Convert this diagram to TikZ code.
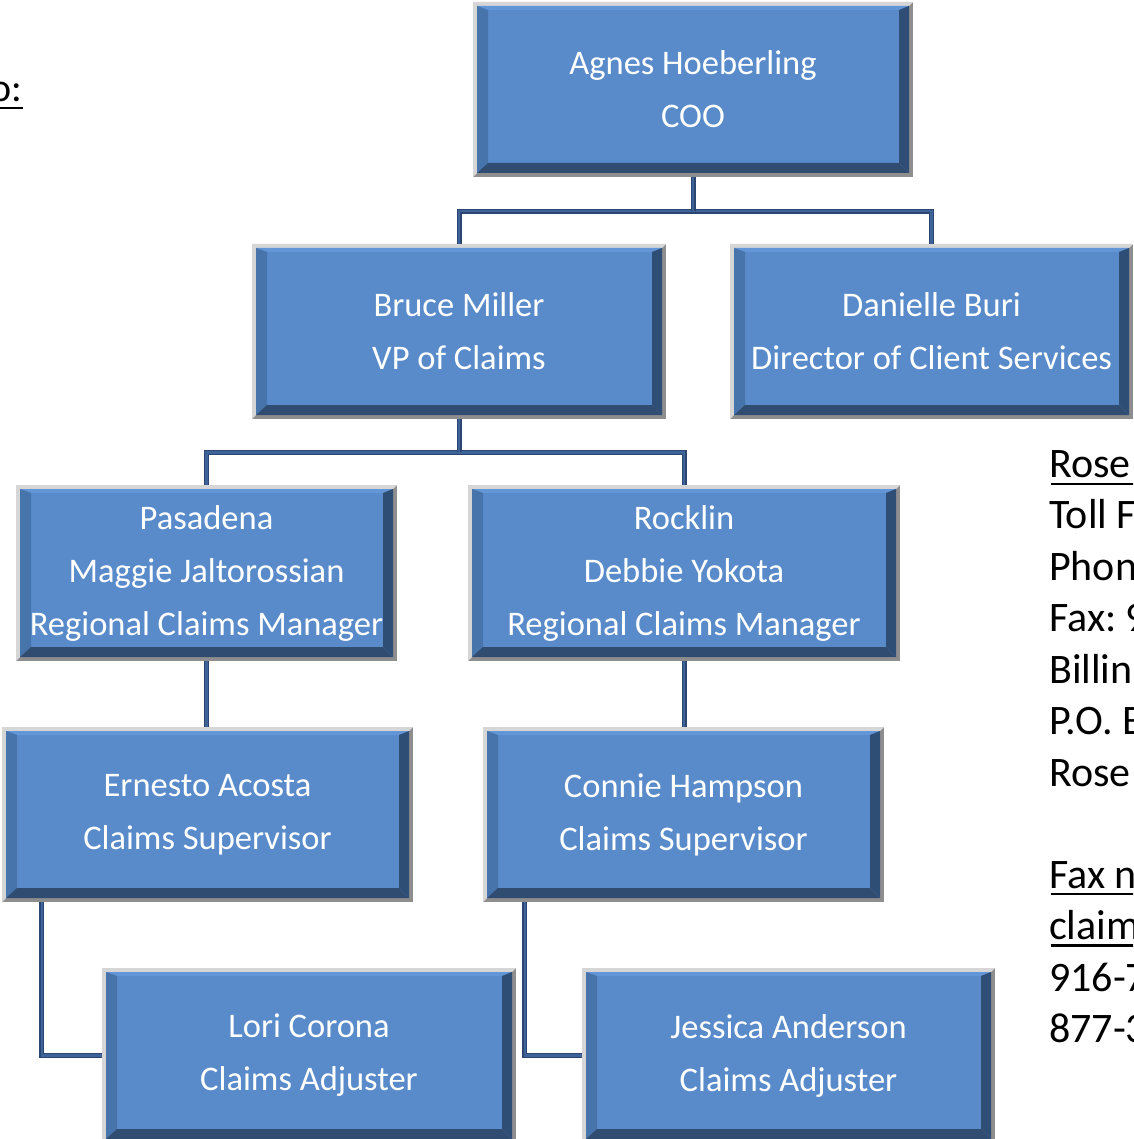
\documentclass[tikz,border=0pt]{standalone}
\usepackage{fontspec}
\setmainfont{Carlito}
\usetikzlibrary{calc}
\frenchspacing
\definecolor{face}{HTML}{598BCB}
\definecolor{btop}{HTML}{6396D6}
\definecolor{bleft}{HTML}{4874AC}
\definecolor{bright}{HTML}{2F4E76}
\definecolor{bbottom}{HTML}{314C71}
\definecolor{glight}{HTML}{D6D6D6}
\definecolor{gdark}{HTML}{8E8E8E}
\definecolor{lnborder}{HTML}{2B4771}
\definecolor{lnfill}{HTML}{3E6398}
\tikzset{
  boxtext/.style={text=white, align=center, inner sep=0pt, font=\fontsize{34.5pt}{53pt}\selectfont},
  conn/.style={draw=lnborder, line width=1.2pt, double=lnfill, double distance=2.6pt},
  sidetext/.style={text=black, inner sep=0pt, anchor=base west, font=\fontsize{42pt}{50pt}\selectfont},
  ulline/.style={draw=black, line width=2.2pt}
}
\newcommand\orgbox[6]{%
  \fill[gdark] (#2,#3) rectangle (#4,#5);
  \fill[glight] (#2,#5) -- (#2,#3) -- (#4,#3) -- ({#4-4},{#3+4}) -- ({#2+4},{#3+4}) -- ({#2+4},{#5-4}) -- cycle;
  \fill[face] ({#2+4},{#3+4}) rectangle ({#4-4},{#5-4});
  \fill[btop] ({#2+4},{#3+4}) -- ({#4-4},{#3+4}) -- ({#4-14},{#3+8}) -- ({#2+15},{#3+8}) -- cycle;
  \fill[bleft] ({#2+4},{#3+4}) -- ({#2+15},{#3+8}) -- ({#2+15},{#5-14}) -- ({#2+4},{#5-4}) -- cycle;
  \fill[bright] ({#4-4},{#3+4}) -- ({#4-4},{#5-4}) -- ({#4-14},{#5-14}) -- ({#4-14},{#3+8}) -- cycle;
  \fill[bbottom] ({#2+4},{#5-4}) -- ({#2+15},{#5-14}) -- ({#4-14},{#5-14}) -- ({#4-4},{#5-4}) -- cycle;
  \node[boxtext, minimum width={(#4-#2)*1pt}, minimum height={(#5-#3)*1pt}] (#1) at ({(#2+#4)/2},{(#3+#5)/2}) {#6};
}
\begin{document}
\begin{tikzpicture}[x=1pt, y=-1pt]
\useasboundingbox (0,0) rectangle (1133,1139);
\fill[white] (0,0) rectangle (1133,1139);
\clip (0,0) rectangle (1133,1139);

\orgbox{agnes}{473}{2}{913}{177}{Agnes Hoeberling\\COO}
\orgbox{bruce}{252}{244}{666}{419}{Bruce Miller\\VP of Claims}
\orgbox{danielle}{730}{244}{1133}{419}{Danielle Buri\\Director of Client Services}
\orgbox{pasadena}{16}{485}{397}{661}{Pasadena\\Maggie Jaltorossian\\Regional Claims Manager}
\orgbox{rocklin}{468}{485}{900}{661}{Rocklin\\Debbie Yokota\\Regional Claims Manager}
\orgbox{ernesto}{2}{727}{413}{902}{Ernesto Acosta\\Claims Supervisor}
\orgbox{connie}{483}{727}{884}{902}{Connie Hampson\\Claims Supervisor}
\orgbox{lori}{102}{968}{516}{1143}{Lori Corona\\Claims Adjuster}
\orgbox{jessica}{582}{968}{995}{1143}{Jessica Anderson\\Claims Adjuster}

% connectors
\coordinate (j1) at ([yshift=-34pt]agnes.south);
\coordinate (j2) at ([yshift=-33pt]bruce.south);
\draw[conn] (bruce.north) |- (j1) -| (danielle.north);
\draw[conn] (agnes.south) -- (j1);
\draw[conn] (pasadena.north) |- (j2) -| (rocklin.north);
\draw[conn] (bruce.south) -- (j2);
\draw[conn] (pasadena.south) -- (pasadena.south |- ernesto.north);
\draw[conn] (rocklin.south) -- (rocklin.south |- connie.north);
\draw[conn] ([xshift=40pt]ernesto.south west) |- (lori.west);
\draw[conn] ([xshift=42pt]connie.south west) |- (jessica.west);

% side texts
\node[sidetext, font=\fontsize{40pt}{48pt}\selectfont, anchor=base east] (tl) at (22.7,101.7) {o:};
\draw[ulline] (tl.base east) ++(0,6) -- ++(-30,0);

\node[sidetext] (s1) at (1049,477) {Rose};
\node[sidetext] (s2) at (1049,528.5) {Toll F};
\node[sidetext] (s3) at (1049,580) {Phon};
\node[sidetext] (s4) at (1049,631.5) {Fax: 9};
\node[sidetext] (s5) at (1049,683) {Billin};
\node[sidetext] (s6) at (1049,734.5) {P.O. B};
\node[sidetext] (s7) at (1049,786) {Rose};
\node[sidetext] (s8) at (1049,888) {Fax n};
\node[sidetext] (s9) at (1049,939.5) {claim};
\node[sidetext] (s10) at (1049,991) {916-7};
\node[sidetext] (s11) at (1049,1042.5) {877-3};
\draw[ulline] (s1.base west) ++(2,7) -- ++(90,0);
\draw[ulline] (s8.base west) ++(2,6) -- ++(90,0);
\draw[ulline] (s9.base west) ++(2,6) -- ++(90,0);
\end{tikzpicture}
\end{document}
